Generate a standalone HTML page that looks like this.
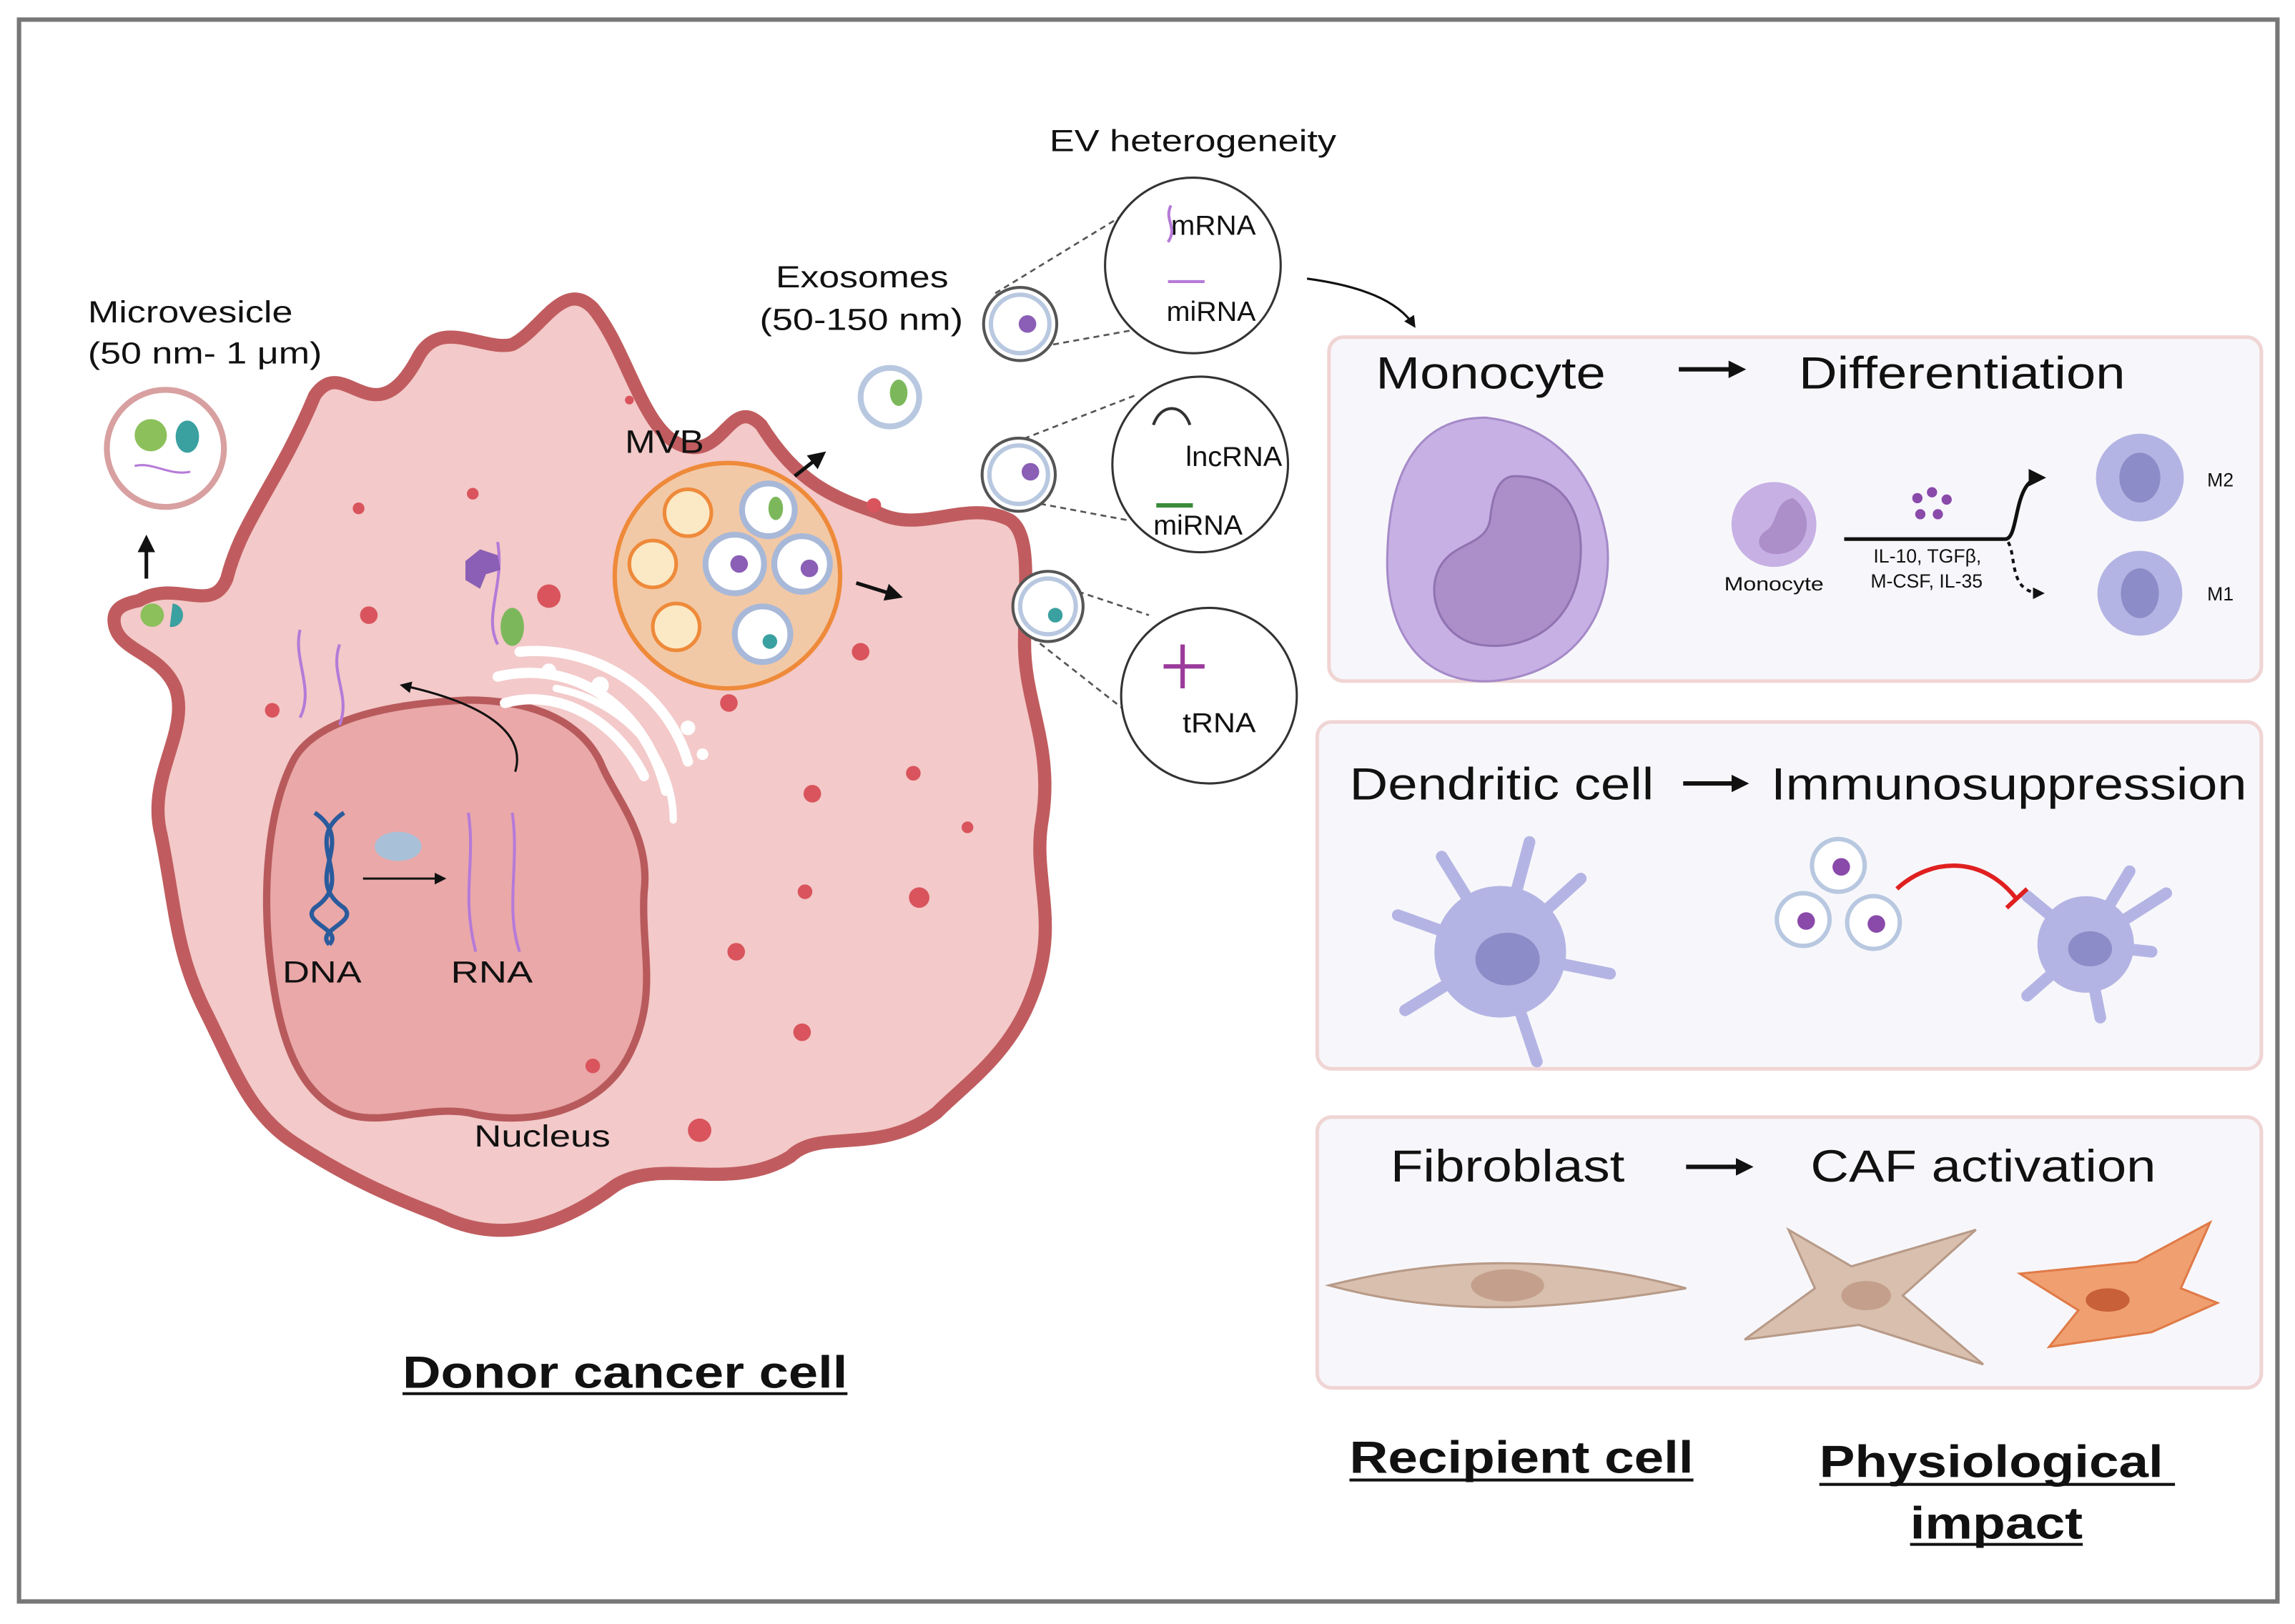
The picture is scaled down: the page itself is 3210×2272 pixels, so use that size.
<!DOCTYPE html>
<html><head><meta charset="utf-8"><style>
html,body{margin:0;padding:0;background:#fff;}
svg{display:block;}
text{font-family:"Liberation Sans",Arial,sans-serif;fill:#111;}
</style></head><body>
<svg width="3210" height="2272" viewBox="0 0 1568 1109" xmlns="http://www.w3.org/2000/svg">
<defs>
<marker id="ah" markerWidth="8" markerHeight="8" refX="6" refY="4" orient="auto" markerUnits="userSpaceOnUse"><path d="M0,0 L8,4 L0,8 z" fill="#111"/></marker>
<marker id="ah2" markerWidth="12" markerHeight="12" refX="9" refY="6" orient="auto" markerUnits="userSpaceOnUse"><path d="M0,0 L12,6 L0,12 z" fill="#111"/></marker>
</defs>
<rect x="0" y="0" width="1568" height="1109" fill="#fff"/>
<rect x="13" y="13" width="1543" height="1081" fill="none" stroke="#777" stroke-width="3"/>

<path d="M95,410 C120,395 145,420 155,395 C165,355 190,330 215,270 C235,240 255,300 285,245 C300,215 330,240 350,235 C370,225 385,190 405,210 C430,240 440,300 470,305 C495,310 500,270 520,290 C545,330 570,340 600,350 C630,365 660,340 690,355 C705,365 700,400 700,440 C700,480 720,510 712,560 C705,600 725,630 705,680 C690,720 660,740 640,760 C600,790 560,770 540,790 C500,815 450,790 420,810 C380,840 340,850 300,830 C260,815 230,800 200,780 C170,760 160,730 140,690 C120,650 120,620 110,570 C100,530 130,500 120,470 C110,445 80,445 78,425 C77,415 85,412 95,410 Z" fill="#f3c9c9" stroke="#c05c5f" stroke-width="9" stroke-linejoin="round"/>
<path d="M200,520 C215,490 270,480 320,478 C360,478 395,490 410,520 C420,545 445,570 440,610 C438,650 450,680 430,720 C410,760 360,770 320,760 C290,755 260,770 235,760 C200,745 190,700 185,660 C180,620 180,560 200,520 Z" fill="#eaa8a8" stroke="#b85a5c" stroke-width="5"/>
<g fill="none" stroke="#fff" stroke-width="7" stroke-linecap="round">
<path d="M345,480 C380,470 420,490 440,530"/>
<path d="M340,462 C390,450 440,480 455,540"/>
<path d="M355,445 C405,440 455,470 470,520"/>
<path d="M380,470 C430,480 460,520 460,560" stroke-width="5"/>
</g>
<g fill="#fff"><circle cx="410" cy="468" r="6"/><circle cx="470" cy="497" r="5"/><circle cx="480" cy="515" r="4"/><circle cx="375" cy="458" r="5"/></g>
<g fill="#d9545c">
<circle cx="186" cy="485" r="5"/><circle cx="252" cy="420" r="6"/><circle cx="245" cy="347" r="4"/><circle cx="323" cy="337" r="4"/><circle cx="375" cy="407" r="8"/>
<circle cx="430" cy="273" r="3"/><circle cx="597" cy="345" r="5"/><circle cx="588" cy="445" r="6"/><circle cx="498" cy="480" r="6"/><circle cx="624" cy="528" r="5"/><circle cx="555" cy="542" r="6"/><circle cx="661" cy="565" r="4"/><circle cx="550" cy="609" r="5"/><circle cx="628" cy="613" r="7"/><circle cx="503" cy="650" r="6"/><circle cx="548" cy="705" r="6"/><circle cx="405" cy="728" r="5"/><circle cx="478" cy="772" r="8"/>
</g>
<g fill="none" stroke="#b57ad8" stroke-width="2">
<path d="M205,430 C200,450 215,470 205,490"/><path d="M232,440 C225,460 240,475 232,495"/>
<path d="M320,555 C325,590 315,610 325,650"/><path d="M350,555 C355,590 345,620 355,650"/>
<path d="M340,370 C345,400 330,420 340,440"/>
</g>
<path d="M318,383 l10,-8 l12,4 l2,10 l-10,3 l-4,10 l-10,-6 z" fill="#8a5fb5"/>
<ellipse cx="350" cy="428" rx="8" ry="13" fill="#7cb85b"/>
<g stroke="#2a5b9c" stroke-width="3" fill="none">
<path d="M215,555 C245,575 205,600 235,620 C245,630 215,635 225,645"/>
<path d="M235,555 C205,575 245,600 215,620 C205,630 235,635 225,645"/>
</g>
<ellipse cx="272" cy="578" rx="16" ry="10" fill="#a8c0d8"/>
<line x1="248" y1="600" x2="303" y2="600" stroke="#111" stroke-width="1.5" marker-end="url(#ah)"/>
<path d="M352,527 C360,500 330,480 275,468" fill="none" stroke="#111" stroke-width="1.5" marker-end="url(#ah)"/>
<text x="193" y="671" font-size="21" textLength="54" lengthAdjust="spacingAndGlyphs">DNA</text>
<text x="308" y="671" font-size="21" textLength="56" lengthAdjust="spacingAndGlyphs">RNA</text>
<text x="324" y="783" font-size="21" textLength="93" lengthAdjust="spacingAndGlyphs">Nucleus</text>
<circle cx="497" cy="393" r="77" fill="#f2c9a6" stroke="#ee8a3a" stroke-width="3"/>
<g fill="#fbe9c5" stroke="#ee8a3a" stroke-width="2.5">
<circle cx="470" cy="350" r="16"/><circle cx="446" cy="385" r="16"/><circle cx="462" cy="428" r="16"/>
</g>
<g fill="#fff" stroke="#a8b8d8" stroke-width="4">
<circle cx="525" cy="348" r="18"/><circle cx="502" cy="385" r="20"/><circle cx="548" cy="385" r="19"/><circle cx="521" cy="433" r="19"/>
</g>
<ellipse cx="530" cy="347" rx="5" ry="8" fill="#7cb85b"/><circle cx="505" cy="385" r="6" fill="#8a5fb5"/><circle cx="553" cy="388" r="6" fill="#8a5fb5"/><circle cx="526" cy="438" r="5" fill="#3aa0a0"/>
<text x="427" y="309" font-size="22" textLength="54" lengthAdjust="spacingAndGlyphs">MVB</text>
<line x1="543" y1="325" x2="562" y2="310" stroke="#111" stroke-width="2.5" marker-end="url(#ah2)"/>
<line x1="585" y1="398" x2="614" y2="407" stroke="#111" stroke-width="2.5" marker-end="url(#ah2)"/>
<circle cx="113" cy="306" r="40" fill="#fff" stroke="#d8a0a0" stroke-width="4"/>
<circle cx="103" cy="297" r="11" fill="#8cc05b"/><ellipse cx="128" cy="298" rx="8" ry="11" fill="#3aa0a0"/>
<path d="M92,318 C105,315 115,325 130,322" fill="none" stroke="#b57ad8" stroke-width="1.5"/>
<line x1="100" y1="395" x2="100" y2="368" stroke="#111" stroke-width="2.5" marker-end="url(#ah2)"/>
<circle cx="104" cy="420" r="8" fill="#8cc05b"/><path d="M118,412 a8,8 0 1 1 -2,16" fill="#3aa0a0"/>
<text x="60" y="220" font-size="21" textLength="140" lengthAdjust="spacingAndGlyphs">Microvesicle</text>
<text x="60" y="248" font-size="21" textLength="160" lengthAdjust="spacingAndGlyphs">(50 nm- 1 μm)</text>
<text x="530" y="196" font-size="21" textLength="118" lengthAdjust="spacingAndGlyphs">Exosomes</text>
<text x="519" y="225" font-size="21" textLength="139" lengthAdjust="spacingAndGlyphs">(50-150 nm)</text>
<circle cx="608" cy="271" r="20" fill="#fff" stroke="#b8c8e0" stroke-width="4"/>
<ellipse cx="614" cy="268" rx="6" ry="9" fill="#7cb85b"/>
<text x="717" y="103" font-size="21" textLength="196" lengthAdjust="spacingAndGlyphs">EV heterogeneity</text>
<g stroke="#555" stroke-width="1.3" stroke-dasharray="4,3" fill="none">
<line x1="680" y1="200" x2="770" y2="145"/><line x1="692" y1="240" x2="775" y2="225"/>
<line x1="680" y1="307" x2="775" y2="270"/><line x1="690" y1="340" x2="770" y2="355"/>
<line x1="710" y1="395" x2="785" y2="420"/><line x1="705" y1="435" x2="775" y2="490"/>
</g>
<g fill="#fff" stroke="#555" stroke-width="2">
<circle cx="697" cy="221" r="25"/><circle cx="696" cy="324" r="25"/><circle cx="716" cy="414" r="24"/>
</g>
<g fill="none" stroke="#b8c8e0" stroke-width="3"><circle cx="697" cy="221" r="20"/><circle cx="696" cy="324" r="20"/><circle cx="716" cy="414" r="19"/></g>
<circle cx="702" cy="221" r="6" fill="#8a5fb5"/><circle cx="704" cy="322" r="6" fill="#8a5fb5"/><circle cx="721" cy="420" r="5" fill="#3aa0a0"/>
<g fill="#fff" stroke="#333" stroke-width="1.5">
<circle cx="815" cy="181" r="60"/><circle cx="820" cy="317" r="60"/><circle cx="826" cy="475" r="60"/>
</g>
<text x="800" y="160" font-size="19" textLength="58" lengthAdjust="spacingAndGlyphs">mRNA</text><text x="797" y="219" font-size="19" textLength="61" lengthAdjust="spacingAndGlyphs">miRNA</text>
<text x="810" y="318" font-size="19" textLength="66" lengthAdjust="spacingAndGlyphs">lncRNA</text><text x="788" y="365" font-size="19" textLength="61" lengthAdjust="spacingAndGlyphs">miRNA</text>
<text x="808" y="500" font-size="19" textLength="50" lengthAdjust="spacingAndGlyphs">tRNA</text>
<path d="M800,140 C795,150 805,155 798,165" fill="none" stroke="#b57ad8" stroke-width="2"/>
<path d="M798,192 h25" stroke="#b57ad8" stroke-width="2"/>
<path d="M788,290 c5,-15 20,-15 25,0" fill="none" stroke="#333" stroke-width="2"/>
<path d="M790,345 h25" stroke="#3a8a3a" stroke-width="3"/>
<path d="M808,440 v30 M795,455 h28" stroke="#9a3a9a" stroke-width="3" fill="none"/>
<path d="M893,190 C930,195 955,205 966,222" fill="none" stroke="#111" stroke-width="1.5" marker-end="url(#ah)"/>

<text x="275" y="948" font-size="31" font-weight="bold" textLength="304" lengthAdjust="spacingAndGlyphs">Donor cancer cell</text>
<line x1="275" y1="952" x2="579" y2="952" stroke="#111" stroke-width="2"/>

<rect x="908" y="230" width="637" height="235" rx="10" fill="#f7f7fb" stroke="#f0d5d5" stroke-width="2.5"/>
<rect x="900" y="493" width="645" height="237" rx="10" fill="#f7f7fb" stroke="#f0d5d5" stroke-width="2.5"/>
<rect x="900" y="763" width="645" height="185" rx="10" fill="#f7f7fb" stroke="#f0d5d5" stroke-width="2.5"/>

<text x="940" y="265" font-size="31" textLength="157" lengthAdjust="spacingAndGlyphs">Monocyte</text>
<line x1="1147" y1="252" x2="1190" y2="252" stroke="#111" stroke-width="3" marker-end="url(#ah2)"/>
<text x="1229" y="265" font-size="31" textLength="223" lengthAdjust="spacingAndGlyphs">Differentiation</text>
<path d="M1015,285 C1060,290 1090,320 1098,370 C1103,420 1075,460 1020,465 C970,468 945,430 948,375 C950,320 970,285 1015,285 Z" fill="#c7b0e4" stroke="#a58ac8" stroke-width="1.5"/>
<path d="M1035,325 C1075,325 1085,360 1078,395 C1070,430 1040,445 1010,440 C985,436 972,405 985,385 C995,370 1015,372 1018,355 C1020,335 1025,325 1035,325 Z" fill="#ac8ec8" stroke="#9073b0" stroke-width="1.5"/>
<circle cx="1212" cy="358" r="29" fill="#c7b0e4"/><path d="M1225,340 c15,10 12,35 -8,38 c-15,2 -20,-10 -10,-16 c8,-5 5,-20 18,-22z" fill="#ac8ec8"/>
<text x="1178" y="403" font-size="13" textLength="68" lengthAdjust="spacingAndGlyphs">Monocyte</text>
<g fill="#8a4aaa"><circle cx="1310" cy="340" r="3.5"/><circle cx="1320" cy="336" r="3.5"/><circle cx="1330" cy="341" r="3.5"/><circle cx="1312" cy="351" r="3.5"/><circle cx="1324" cy="351" r="3.5"/></g>
<path d="M1260,368 H1370 C1380,368 1375,326 1395,326" fill="none" stroke="#111" stroke-width="2.5" marker-end="url(#ah2)"/>
<path d="M1372,370 C1378,380 1372,405 1395,405" fill="none" stroke="#111" stroke-width="2" stroke-dasharray="3,3" marker-end="url(#ah)"/>
<text x="1280" y="384" font-size="13">IL-10, TGFβ,</text><text x="1278" y="401" font-size="13">M-CSF, IL-35</text>
<circle cx="1462" cy="326" r="30" fill="#b4b4e4"/><ellipse cx="1462" cy="326" rx="14" ry="17" fill="#8c8cc8"/>
<circle cx="1462" cy="405" r="29" fill="#b4b4e4"/><ellipse cx="1462" cy="405" rx="13" ry="17" fill="#8c8cc8"/>
<text x="1508" y="332" font-size="13">M2</text><text x="1508" y="410" font-size="13">M1</text>

<text x="922" y="546" font-size="31" textLength="208" lengthAdjust="spacingAndGlyphs">Dendritic cell</text>
<line x1="1150" y1="535" x2="1192" y2="535" stroke="#111" stroke-width="3" marker-end="url(#ah2)"/>
<text x="1210" y="546" font-size="31" textLength="325" lengthAdjust="spacingAndGlyphs">Immunosuppression</text>
<g fill="#b4b4e4" stroke="#b4b4e4" stroke-width="8" stroke-linecap="round">
<line x1="1025" y1="650" x2="1045" y2="575"/><line x1="1025" y1="650" x2="955" y2="625"/><line x1="1025" y1="650" x2="1100" y2="665"/><line x1="1025" y1="650" x2="1050" y2="725"/><line x1="1025" y1="650" x2="960" y2="690"/><line x1="1025" y1="650" x2="1080" y2="600"/><line x1="1025" y1="650" x2="985" y2="585"/>
<line x1="1425" y1="645" x2="1455" y2="595"/><line x1="1425" y1="645" x2="1385" y2="612"/><line x1="1425" y1="645" x2="1470" y2="650"/><line x1="1425" y1="645" x2="1435" y2="695"/><line x1="1425" y1="645" x2="1385" y2="680"/><line x1="1425" y1="645" x2="1480" y2="610"/>
</g>
<circle cx="1025" cy="650" r="45" fill="#b4b4e4"/><ellipse cx="1030" cy="655" rx="22" ry="18" fill="#8c8cc8"/>
<circle cx="1425" cy="645" r="33" fill="#b4b4e4"/><ellipse cx="1428" cy="648" rx="15" ry="12" fill="#8c8cc8"/>
<g fill="#fff" stroke="#b8c8e0" stroke-width="3"><circle cx="1256" cy="591" r="18"/><circle cx="1232" cy="628" r="18"/><circle cx="1280" cy="630" r="18"/></g>
<g fill="#8a4aaa"><circle cx="1258" cy="592" r="6"/><circle cx="1234" cy="629" r="6"/><circle cx="1282" cy="631" r="6"/></g>
<path d="M1296,607 C1320,585 1355,585 1377,613" fill="none" stroke="#e02020" stroke-width="3"/>
<line x1="1371" y1="620" x2="1385" y2="607" stroke="#e02020" stroke-width="3"/>

<text x="950" y="807" font-size="31" textLength="160" lengthAdjust="spacingAndGlyphs">Fibroblast</text>
<line x1="1152" y1="797" x2="1195" y2="797" stroke="#111" stroke-width="3" marker-end="url(#ah2)"/>
<text x="1237" y="807" font-size="31" textLength="236" lengthAdjust="spacingAndGlyphs">CAF activation</text>
<path d="M908,878 C980,860 1060,855 1152,880 C1060,895 990,900 908,878 Z" fill="#d8bfae" stroke="#b89a88" stroke-width="1.5"/>
<ellipse cx="1030" cy="878" rx="25" ry="11" fill="#c4a08c"/>
<path d="M1222,840 L1265,865 L1350,840 L1300,885 L1355,932 L1270,905 L1192,915 L1240,880 Z" fill="#d8bfae" stroke="#b89a88" stroke-width="1.5"/>
<ellipse cx="1275" cy="885" rx="17" ry="10" fill="#c4a08c"/>
<path d="M1380,870 L1460,862 L1510,835 L1490,880 L1515,890 L1470,910 L1400,920 L1420,895 Z" fill="#f0a070" stroke="#e07a48" stroke-width="1.5"/>
<ellipse cx="1440" cy="888" rx="15" ry="8" fill="#c8603a"/>

<text x="922" y="1006" font-size="31" font-weight="bold" textLength="235" lengthAdjust="spacingAndGlyphs">Recipient cell</text>
<line x1="922" y1="1011" x2="1157" y2="1011" stroke="#111" stroke-width="2"/>
<text x="1243" y="1009" font-size="31" font-weight="bold" textLength="235" lengthAdjust="spacingAndGlyphs">Physiological</text>
<line x1="1243" y1="1014" x2="1486" y2="1014" stroke="#111" stroke-width="2"/>
<text x="1305" y="1051" font-size="31" font-weight="bold" textLength="118" lengthAdjust="spacingAndGlyphs">impact</text>
<line x1="1305" y1="1055" x2="1423" y2="1055" stroke="#111" stroke-width="2"/>
</svg>
</body></html>
